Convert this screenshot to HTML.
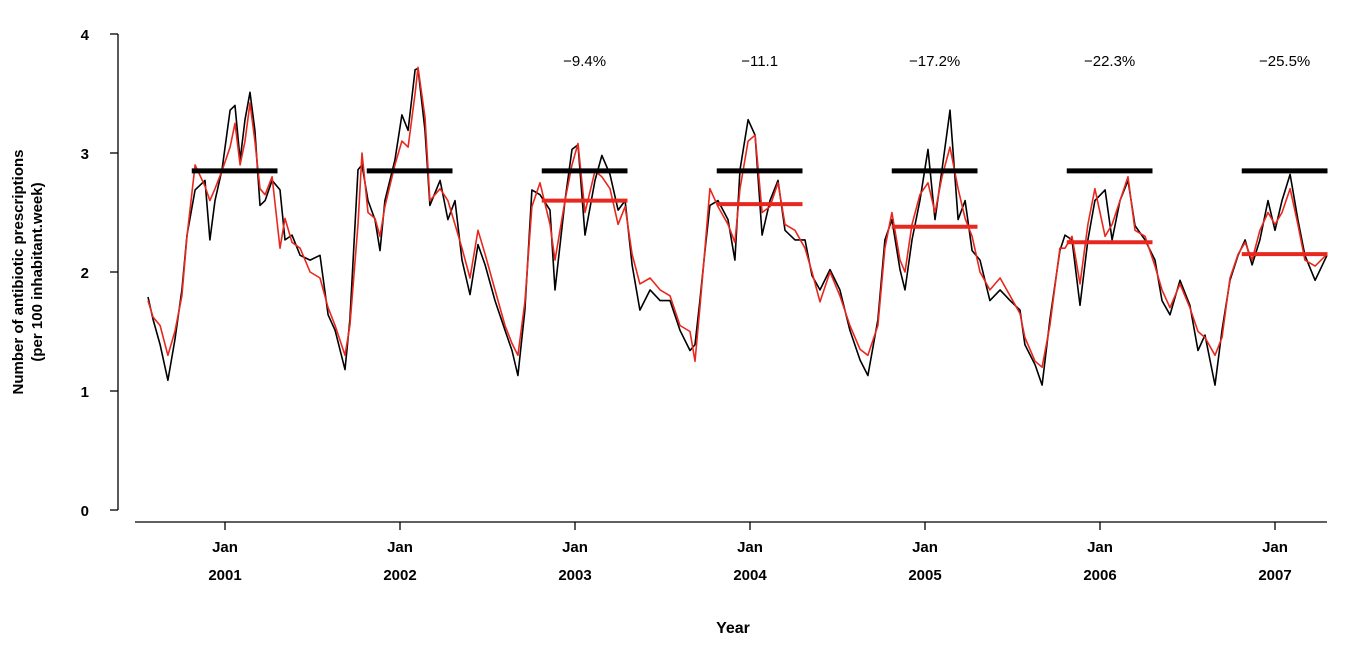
<!DOCTYPE html>
<html><head><meta charset="utf-8"><style>
body{margin:0;background:#fff}
svg{display:block;font-family:"Liberation Sans",Arial,sans-serif}
</style></head><body>
<svg id="c" width="1363" height="647" viewBox="0 0 1363 647"></svg>
<script>
// Time points (decimal years)
const timeT=[2000.56,2000.589,2000.629,2000.674,2000.714,2000.754,2000.783,2000.829,2000.886,2000.914,2000.943,2000.983,2001.029,2001.057,2001.086,2001.114,2001.143,2001.171,2001.2,2001.229,2001.269,2001.314,2001.343,2001.383,2001.429,2001.486,2001.543,2001.589,2001.629,2001.686,2001.714,2001.76,2001.783,2001.817,2001.857,2001.886,2001.914,2001.971,2002.011,2002.046,2002.086,2002.103,2002.143,2002.171,2002.229,2002.274,2002.314,2002.354,2002.4,2002.446,2002.486,2002.543,2002.6,2002.64,2002.674,2002.714,2002.754,2002.8,2002.857,2002.886,2002.943,2002.983,2003.017,2003.057,2003.114,2003.154,2003.2,2003.246,2003.286,2003.326,2003.371,2003.429,2003.486,2003.543,2003.6,2003.657,2003.686,2003.714,2003.743,2003.771,2003.817,2003.874,2003.914,2003.943,2003.989,2004.029,2004.069,2004.114,2004.16,2004.2,2004.257,2004.314,2004.354,2004.4,2004.457,2004.514,2004.571,2004.629,2004.674,2004.731,2004.771,2004.811,2004.857,2004.886,2004.926,2004.971,2005.017,2005.057,2005.097,2005.143,2005.189,2005.229,2005.269,2005.314,2005.371,2005.429,2005.486,2005.543,2005.571,2005.629,2005.669,2005.714,2005.771,2005.8,2005.84,2005.886,2005.931,2005.971,2006.029,2006.069,2006.114,2006.16,2006.2,2006.257,2006.314,2006.354,2006.4,2006.457,2006.514,2006.56,2006.6,2006.657,2006.697,2006.743,2006.789,2006.829,2006.869,2006.914,2006.96,2007,2007.04,2007.086,2007.131,2007.171,2007.229,2007.297];
const blackV=[1.79,1.6,1.39,1.09,1.43,1.85,2.31,2.69,2.77,2.27,2.6,2.86,3.36,3.4,2.94,3.28,3.51,3.19,2.56,2.6,2.77,2.69,2.27,2.31,2.14,2.1,2.14,1.64,1.51,1.18,1.6,2.86,2.9,2.6,2.44,2.18,2.6,2.94,3.32,3.19,3.7,3.71,3.19,2.56,2.77,2.44,2.6,2.1,1.81,2.23,2.06,1.76,1.51,1.34,1.13,1.68,2.69,2.65,2.52,1.85,2.6,3.03,3.07,2.31,2.77,2.98,2.82,2.52,2.6,2.06,1.68,1.85,1.76,1.76,1.51,1.34,1.39,1.76,2.18,2.56,2.6,2.44,2.1,2.86,3.28,3.15,2.31,2.6,2.77,2.35,2.27,2.27,1.97,1.85,2.02,1.85,1.51,1.26,1.13,1.6,2.27,2.44,2.02,1.85,2.27,2.6,3.03,2.44,2.86,3.36,2.44,2.6,2.18,2.1,1.76,1.85,1.76,1.68,1.39,1.22,1.05,1.6,2.18,2.31,2.27,1.72,2.27,2.6,2.69,2.27,2.6,2.77,2.39,2.27,2.1,1.76,1.64,1.93,1.72,1.34,1.47,1.05,1.51,1.93,2.14,2.27,2.06,2.27,2.6,2.35,2.6,2.82,2.44,2.14,1.93,2.14];
const redV=[1.76,1.62,1.55,1.3,1.5,1.8,2.3,2.9,2.72,2.6,2.7,2.85,3.05,3.25,2.9,3.1,3.42,3.1,2.7,2.65,2.8,2.2,2.45,2.25,2.2,2.0,1.95,1.7,1.55,1.3,1.55,2.4,3.0,2.5,2.45,2.3,2.55,2.9,3.1,3.05,3.5,3.72,3.3,2.6,2.7,2.6,2.4,2.2,1.95,2.35,2.15,1.85,1.55,1.4,1.3,1.75,2.55,2.75,2.4,2.1,2.6,2.9,3.08,2.5,2.85,2.8,2.7,2.4,2.55,2.15,1.9,1.95,1.85,1.8,1.55,1.5,1.25,1.7,2.2,2.7,2.55,2.4,2.25,2.7,3.1,3.15,2.5,2.55,2.75,2.4,2.35,2.2,2.0,1.75,2.0,1.8,1.55,1.35,1.3,1.55,2.2,2.5,2.1,2.0,2.4,2.65,2.75,2.5,2.8,3.05,2.7,2.45,2.3,2.0,1.85,1.95,1.8,1.65,1.45,1.25,1.2,1.55,2.2,2.2,2.3,1.9,2.4,2.7,2.3,2.4,2.6,2.8,2.35,2.3,2.05,1.85,1.7,1.9,1.7,1.5,1.45,1.3,1.45,1.95,2.15,2.25,2.1,2.35,2.5,2.4,2.5,2.7,2.4,2.1,2.05,2.15];
const seasonStart=[2000.81,2001.81,2002.81,2003.81,2004.81,2005.81,2006.81];
const seasonEnd=[2001.30,2002.30,2003.30,2004.30,2005.30,2006.30,2007.30];
const baseline=[2.85,2.85,2.85,2.85,2.85,2.85,2.85];
const redMean=[null,null,2.6,2.57,2.38,2.25,2.15];
const changeLabels=["","","\u22129.4%","\u221211.1","\u221217.2%","\u221222.3%","\u221225.5%"];
const yearLabels=["2001","2002","2003","2004","2005","2006","2007"];
const yTicks=[0,1,2,3,4];

const svg=document.getElementById('c');
const NS='http://www.w3.org/2000/svg';
const xS=t=>225+(t-2001)*175;
const yS=v=>510-v*119;
function mk(tag,attrs,parent){const e=document.createElementNS(NS,tag);for(const k in attrs)e.setAttribute(k,attrs[k]);(parent||svg).appendChild(e);return e;}

let e=mk('line',{x1:118,y1:34,x2:118,y2:510,stroke:'#000','stroke-width':1.3});


yTicks.forEach(v=>{
  let t=mk('line',{x1:110,x2:118,y1:yS(v),y2:yS(v),stroke:'#000','stroke-width':1.3});
  
  
  let l=mk('text',{x:89,y:yS(v)+6,'text-anchor':'end','font-size':15,'font-weight':'bold'});
  l.textContent=v;
  
  
});
e=mk('line',{x1:135,y1:522,x2:1327,y2:522,stroke:'#000','stroke-width':1.3});


yearLabels.forEach((y,i)=>{
  const x=xS(2001+i);
  let t=mk('line',{x1:x,x2:x,y1:522,y2:530,stroke:'#000','stroke-width':1.3});
  
  
  let a=mk('text',{x:x,y:552,'text-anchor':'middle','font-size':15,'font-weight':'bold'});
  a.textContent='Jan';
  
  
  let b=mk('text',{x:x,y:580,'text-anchor':'middle','font-size':15,'font-weight':'bold'});
  b.textContent=y;
  
  
});
e=mk('text',{x:733,y:633,'text-anchor':'middle','font-size':16,'font-weight':'bold'});
e.textContent='Year';


const yt=mk('text',{transform:'translate(23,272) rotate(-90)','text-anchor':'middle','font-size':15,'font-weight':'bold'});


let s1=mk('tspan',{x:0,y:0},yt);s1.textContent='Number of antibiotic prescriptions';
let s2=mk('tspan',{x:0,y:19},yt);s2.textContent='(per 100 inhabitant.week)';

function line(vals,color,name){
  const n=Math.min(vals.length,timeT.length);
  const pts=[];
  for(let i=0;i<n;i++)pts.push(xS(timeT[i]).toFixed(1)+','+yS(vals[i]).toFixed(1));
  const pl=mk('polyline',{points:pts.join(' '),fill:'none',stroke:color,'stroke-width':1.6,'stroke-linejoin':'round'});
  
  
}
line(blackV,'#000','observed-series-black');
line(redV,'#e8281e','model-series-red');

seasonStart.forEach((s,i)=>{
  let b=mk('line',{x1:xS(s),x2:xS(seasonEnd[i]),y1:yS(baseline[i]),y2:yS(baseline[i]),stroke:'#000','stroke-width':5});
  
  
  if(redMean[i]!=null){
    let r=mk('line',{x1:xS(s),x2:xS(seasonEnd[i]),y1:yS(redMean[i]),y2:yS(redMean[i]),stroke:'#e8281e','stroke-width':4});
    
    
  }
  if(changeLabels[i]){
    let t=mk('text',{x:(xS(s)+xS(seasonEnd[i]))/2,y:66,'text-anchor':'middle','font-size':15});
    t.textContent=changeLabels[i];
    
    
  }
});
</script>
</body></html>
